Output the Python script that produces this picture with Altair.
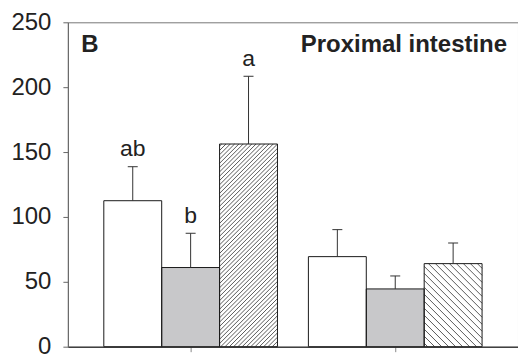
import altair as alt
import pandas as pd
import numpy as np

# ---- data ----
groups = [1, 2]
treatments = ["white", "gray", "hatched"]
means_g1 = [112.5, 61.0, 156.2]
means_g2 = [69.4, 44.5, 64.0]
se_g1 = [26.2, 26.4, 52.2]
se_g2 = [20.8, 10.0, 15.9]
letters_g1 = ["ab", "b", "a"]
letters_g2 = ["", "", ""]
y_ticks = [0, 50, 100, 150, 200, 250]

# ---- layout / style constants ----
W, H = 451, 325
XDOM = [0.4, 2.6]
YDOM = [0, 250]
KX = W / (XDOM[1] - XDOM[0])   # px per x unit
KY = H / (YDOM[1] - YDOM[0])   # px per y unit
BAR_W = 58 / KX
CAP = 5 / KX
FONT = "Liberation Sans"
fill_range = ["white", "#c8c8ca", "white"]
hatch_style = {1: ("/", 4.3), 2: ("\\", 7.0)}

rows = []
for g, means, ses, lets in [(1, means_g1, se_g1, letters_g1), (2, means_g2, se_g2, letters_g2)]:
    for i, t in enumerate(treatments):
        rows.append({"g": g, "ti": i, "t": t, "mean": means[i], "se": ses[i], "letter": lets[i]})
df = pd.DataFrame(rows)


def hatch_segments(xl, xr, top, s, d):
    X0, X1, Y1 = xl * KX, xr * KX, top * KY
    segs = []
    if d == "/":
        c = X0 - Y1 + s / 2
        while c < X1:
            xs, xe = max(X0, c), min(X1, c + Y1)
            if xe > xs:
                segs.append((xs, xs - c, xe, xe - c))
            c += s
    else:
        c = X0 + s / 2
        while c < X1 + Y1:
            xs, xe = max(X0, c - Y1), min(X1, c)
            if xe > xs:
                segs.append((xs, c - xs, xe, c - xe))
            c += s
    return [{"hx": a / KX, "hy": b / KY, "hx2": e / KX, "hy2": f / KY} for a, b, e, f in segs]


hrows = []
for r in rows:
    if r["t"] == "hatched":
        xc = r["g"] + (r["ti"] - 1) * BAR_W
        d, s = hatch_style[r["g"]]
        hrows += hatch_segments(xc - BAR_W / 2, xc + BAR_W / 2, r["mean"], s, d)
hdf = pd.DataFrame(hrows)

xs = alt.Scale(domain=XDOM, nice=False, zero=False)
ys = alt.Scale(domain=YDOM, nice=False)

base = alt.Chart(df).transform_calculate(
    xc=f"datum.g + (datum.ti - 1) * {BAR_W}",
).transform_calculate(
    xl=f"datum.xc - {BAR_W / 2}",
    xr=f"datum.xc + {BAR_W / 2}",
    top="datum.mean + datum.se",
    cl=f"datum.xc - {CAP}",
    cr=f"datum.xc + {CAP}",
)

x_axis = alt.Axis(values=groups, labels=False, ticks=True, tickSize=5, tickColor="#888888",
                  domainColor="#111111", grid=False, title=None)
y_axis = alt.Axis(values=y_ticks, tickSize=5, tickColor="#666666", domainColor="#666666",
                  labelFont=FONT, labelFontSize=24, labelColor="#222222", labelPadding=12,
                  grid=False, title=None)

bars_fill = base.mark_bar(strokeWidth=0).encode(
    x=alt.X("xl:Q", scale=xs, axis=x_axis),
    x2="xr:Q",
    y=alt.Y("mean:Q", scale=ys, axis=y_axis),
    y2=alt.datum(0),
    color=alt.Color("t:N", scale=alt.Scale(domain=treatments, range=fill_range), legend=None),
)

hatch = alt.Chart(hdf).mark_rule(color="#222222", strokeWidth=0.75).encode(
    x=alt.X("hx:Q", scale=xs), y=alt.Y("hy:Q", scale=ys), x2="hx2:Q", y2="hy2:Q"
)

bars_outline = base.mark_bar(fillOpacity=0, stroke="#1a1a1a", strokeWidth=1).encode(
    x=alt.X("xl:Q", scale=xs), x2="xr:Q", y=alt.Y("mean:Q", scale=ys), y2=alt.datum(0)
)

err = base.mark_rule(color="#333333", strokeWidth=1).encode(
    x=alt.X("xc:Q", scale=xs), y=alt.Y("mean:Q", scale=ys), y2="top:Q"
)
caps = base.mark_rule(color="#333333", strokeWidth=1).encode(
    x=alt.X("cl:Q", scale=xs), x2="cr:Q", y=alt.Y("top:Q", scale=ys)
)
letters = base.mark_text(font=FONT, fontSize=23, color="#222222", baseline="alphabetic", dy=-10.5).encode(
    x=alt.X("xc:Q", scale=xs), y=alt.Y("top:Q", scale=ys), text="letter:N"
)

panel = alt.Chart(pd.DataFrame({"lab": ["B"]})).mark_text(
    font=FONT, fontSize=24, fontWeight="bold", color="#222222", align="left", baseline="alphabetic"
).encode(text="lab:N", x=alt.value(13.5), y=alt.value(29.7))

title = alt.Chart(pd.DataFrame({"lab": ["Proximal intestine"]})).mark_text(
    font=FONT, fontSize=24, fontWeight="bold", color="#222222", align="right", baseline="alphabetic"
).encode(text="lab:N", x=alt.value(440), y=alt.value(29.7))

chart = alt.layer(bars_fill, hatch, bars_outline, err, caps, letters, panel, title).properties(
    width=W, height=H,
    autosize=alt.AutoSizeParams(type="none"),
    padding={"left": 68, "top": 22, "right": 0, "bottom": 9},
).configure_view(stroke="#777777", strokeWidth=1)

chart.save("out.html", embed_options={"renderer": "svg", "actions": False})
